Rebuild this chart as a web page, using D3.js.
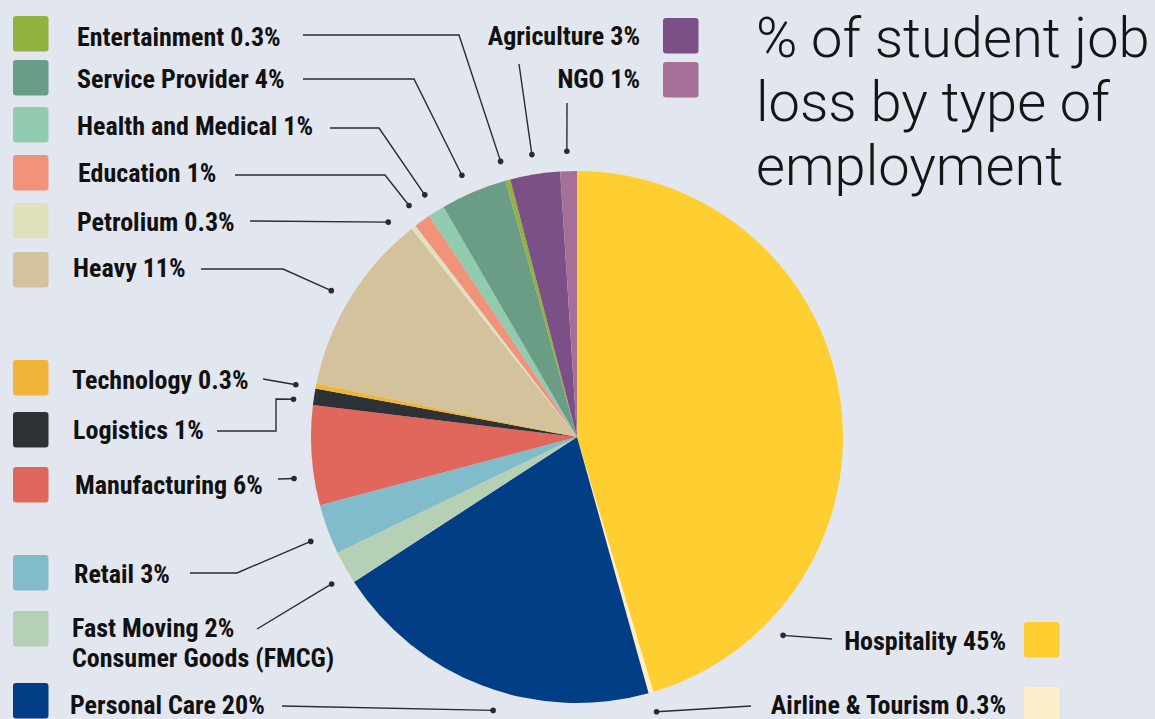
<!DOCTYPE html>
<html>
<head>
<meta charset="utf-8">
<script src="https://cdn.jsdelivr.net/npm/d3@7"></script>
<style>
  html, body { margin: 0; padding: 0; background: #e2e6ef; }
  svg { display: block; }
  .lbl { font-family: "Liberation Sans Narrow", "Arial Narrow", "Roboto Condensed", sans-serif; font-weight: 700; font-size: 26px; fill: #111; }
  .title { font-family: Roboto, "Liberation Sans", Arial, sans-serif; font-weight: 300; font-size: 56px; fill: #151515; }
</style>
</head>
<body>
<svg id="chart" width="1155" height="719"></svg>
<script>
// Share of student job loss by type of employment (clockwise from 12 o'clock)
const categories = [
  "Hospitality", "Airline & Tourism", "Personal Care", "Fast Moving|Consumer Goods (FMCG)",
  "Retail", "Manufacturing", "Logistics", "Technology", "Heavy", "Petrolium",
  "Education", "Health and Medical", "Service Provider", "Entertainment", "Agriculture", "NGO"
];
const values = [45, 0.3, 20, 2, 3, 6, 1, 0.3, 11, 0.3, 1, 1, 4, 0.3, 3, 1];
const colors = [
  "#ffcf32", "#fdefc9", "#023e86", "#b5d0b4",
  "#80bcc9", "#e1675d", "#2d3236", "#f0b438", "#d4c29d", "#e0e2bd",
  "#f1927b", "#91cbb0", "#6b9d86", "#92b23f", "#7b5086", "#a66f97"
];
const titleLines = ["% of student job", "loss by type of", "employment"];

// Label placement: text anchor/baseline, legend swatch corner, leader path
// points (ending at the dot), and where along its slice the dot sits (t).
const layout = [
  { tx: 1006, ty: 650, anchor: "end",   sq: [1024, 622], path: [[832, 639]], t: 0.82 },
  { tx: 1006, ty: 714, anchor: "end",   sq: [1024, 687], path: [[751, 706]], t: 0.5 },
  { tx: 70,   ty: 714, anchor: "start", sq: [13, 683],  path: [[282, 706]], t: 0.45 },
  { tx: 72,   ty: 637, anchor: "start", sq: [13, 611],  path: [[257, 629]], t: 0.29 },
  { tx: 74,   ty: 583, anchor: "start", sq: [13, 555],  path: [[190, 573], [237, 573]], t: 0.40 },
  { tx: 75,   ty: 494, anchor: "start", sq: [13, 467],  path: [[278, 479]], t: 0.30 },
  { tx: 73,   ty: 439, anchor: "start", sq: [13, 412],  path: [[217, 431], [276, 431], [276, 399]], t: 0.19 },
  { tx: 72,   ty: 389, anchor: "start", sq: [13, 360],  path: [[263, 379]], t: 0.0 },
  { tx: 73,   ty: 277, anchor: "start", sq: [13, 252],  path: [[201, 269], [283, 269]], t: 0.48 },
  { tx: 77,   ty: 231, anchor: "start", sq: [13, 203],  path: [[250, 221]], t: -2.6 },
  { tx: 78,   ty: 182, anchor: "start", sq: [13, 155],  path: [[235, 175], [385, 175]], t: 0.39 },
  { tx: 77,   ty: 135, anchor: "start", sq: [13, 107],  path: [[330, 128], [379, 128]], t: 0.44 },
  { tx: 77,   ty: 88,  anchor: "start", sq: [13, 60],   path: [[303, 79], [414, 79]], t: 0.44 },
  { tx: 77,   ty: 46,  anchor: "start", sq: [13, 16],   path: [[303, 35], [459, 35]], t: 0.1 },
  { tx: 640,  ty: 45,  anchor: "end",   sq: [663, 18],  path: [[519, 64]], t: 0.5 },
  { tx: 640,  ty: 88,  anchor: "end",   sq: [663, 62],  path: [[567, 103]], t: 0.44 }
];

const svg = d3.select("#chart");
const W = 1155, H = 719;
const cx = 577, cy = 437, r = 266, dotR = r + 20;

svg.append("rect").attr("width", W).attr("height", H).attr("fill", "#e2e6ef");

const data = categories.map((c, i) => ({ name: c, value: values[i], color: colors[i], lay: layout[i] }));

const pie = d3.pie().value(d => d.value).sort(null).startAngle(0).endAngle(2 * Math.PI);
const arcs = pie(data);
const arc = d3.arc().innerRadius(0).outerRadius(r);

const g = svg.append("g").attr("transform", `translate(${cx},${cy})`);
g.selectAll("path.slice")
  .data(arcs)
  .join("path")
  .attr("class", "slice")
  .attr("d", arc)
  .attr("fill", d => d.data.color);

// leader lines with a dot near the rim of each slice
const line = d3.line();
arcs.forEach(a => {
  const L = a.data.lay;
  const ang = a.startAngle + (a.endAngle - a.startAngle) * L.t;
  const dx = cx + dotR * Math.sin(ang);
  const dy = cy - dotR * Math.cos(ang);
  const pts = L.path.concat([[dx, dy]]);
  svg.append("path")
    .attr("d", line(pts))
    .attr("fill", "none")
    .attr("stroke", "#2b2b2b")
    .attr("stroke-width", 1.4);
  svg.append("circle")
    .attr("cx", dx).attr("cy", dy).attr("r", 2.8)
    .attr("fill", "#2b2b2b");
});

// legend swatches
svg.selectAll("rect.sw")
  .data(data)
  .join("rect")
  .attr("class", "sw")
  .attr("x", d => d.lay.sq[0])
  .attr("y", d => d.lay.sq[1])
  .attr("width", 35.5).attr("height", 35.5)
  .attr("rx", 3)
  .attr("fill", d => d.color);

// labels: first line carries the percentage
data.forEach(d => {
  const parts = d.name.split("|");
  svg.append("text")
    .attr("class", "lbl")
    .attr("x", d.lay.tx)
    .attr("y", d.lay.ty)
    .attr("text-anchor", d.lay.anchor)
    .text(parts[0] + " " + d.value + "%");
  for (let k = 1; k < parts.length; k++) {
    svg.append("text")
      .attr("class", "lbl")
      .attr("x", d.lay.tx)
      .attr("y", d.lay.ty + 30 * k)
      .attr("text-anchor", d.lay.anchor)
      .text(parts[k]);
  }
});

// title
svg.selectAll("text.title")
  .data(titleLines)
  .join("text")
  .attr("class", "title")
  .attr("x", 756)
  .attr("y", (d, i) => 57 + i * 64)
  .text(d => d);
</script>
</body>
</html>
